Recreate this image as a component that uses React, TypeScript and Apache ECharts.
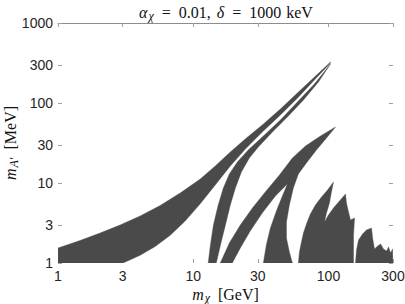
import React, { useEffect, useRef } from 'react';
import * as echarts from 'echarts';

// Tick values on the two logarithmic axes
const xTicks = [1, 3, 10, 30, 100, 300];
const yTicks = [1, 3, 10, 30, 100, 300, 1000];

// Allowed regions, vertices as [m_chi (GeV), m_A' (MeV)]
const bandMain: [number, number][] = [
  [1, 1.54], [1.455, 1.91], [2.047, 2.37], [2.878, 2.985], [4.05, 3.87], [5.695, 5.23],
  [8.01, 7.5], [11.27, 11.22], [14.55, 16.31], [18.8, 24.4], [24.7, 36.5], [32.4, 53.1],
  [44.1, 84.1], [58.9, 133.4], [77.4, 205], [103.5, 325],
  [103.5, 316], [77.4, 188], [58.9, 115], [44.1, 70.8], [32.4, 43.4], [24.3, 26.6],
  [18.8, 16.31], [14.55, 9.44], [11.27, 5.51], [8.72, 3.35], [6.76, 2.219], [5.23, 1.603],
  [4.05, 1.248], [3.03, 1], [1, 1],
];

const finB: [number, number][] = [
  [12.9, 1], [13.4, 1.68], [14.1, 2.99], [15.3, 5.31], [16.7, 8.66], [18.5, 13.0],
  [21.2, 18.3], [25.5, 25.9], [32.4, 37.6], [44.1, 61.3], [58.9, 103], [78.7, 173],
  [103.5, 307],
  [84.3, 183], [65.3, 109], [50.5, 68.8], [38.5, 43.4], [30.3, 28.2], [26.0, 20.5],
  [22.7, 13.7], [20.5, 8.66], [18.8, 5.31], [17.3, 2.99], [15.9, 1.68], [14.8, 1],
];

const finCD: [number, number][] = [
  [15.85, 1], [18.5, 1.78], [22.3, 2.99], [27.4, 4.87], [34.1, 7.72], [43.4, 12.6],
  [54.1, 20.5], [67.6, 29.0], [87.3, 38.7], [112.7, 50.1],
  [96.7, 36.5], [81.5, 25.9], [68.7, 17.8], [59.9, 13.0],
  [55.0, 8.66], [51.4, 5.31], [48.9, 3.25], [48.9, 2.05], [51.4, 1.37], [54.1, 1],
  [33.0, 1], [34.7, 1.68], [37.2, 2.74], [41.2, 4.47], [45.6, 6.88], [49.7, 9.72],
  [40.5, 6.88], [32.4, 4.22], [26.4, 2.51], [22.3, 1.54], [19.45, 1],
];

const finE: [number, number][] = [
  [59.9, 1], [61.0, 1.372], [63.1, 1.83], [65.3, 2.371], [68.7, 3.07], [73.5, 4.1],
  [80.1, 5.31], [88.8, 6.68], [98.4, 8.18], [108.9, 10.3],
  [105.2, 7.72], [101.7, 5.62], [96.7, 4.22], [93.4, 3.25],
  [100, 3.98], [108.9, 4.87], [120.6, 5.96], [133.6, 7.29],
  [135.9, 5.62], [140.7, 4.34], [145.5, 3.45], [155.9, 3.65], [153.2, 2.24], [153.2, 1],
];

const finF: [number, number][] = [
  [158.5, 1], [161.2, 1.45], [166.8, 1.94], [178.6, 2.3], [191, 2.59], [208, 2.74],
  [212, 2.05], [219, 1.5], [231, 1.63], [243, 1.73], [255, 1.5], [269, 1.41],
  [278, 1.59], [288, 1.33], [298, 1.5], [300, 1],
];

const regions = [bandMain, finB, finCD, finE, finF];

const FILL = '#4a4a4a';
const TICK = '#a0a0a0';
const LABEL = '#262626';
const SANS = 'Liberation Sans, Arial, sans-serif';
const SERIF = 'Liberation Serif, DejaVu Serif, serif';

export default function App() {
  const ref = useRef<HTMLDivElement>(null);

  useEffect(() => {
    if (!ref.current) return;
    const chart = echarts.init(ref.current, undefined, { renderer: 'svg' });
    const fmt = (v: number) => String(Math.round(v));
    const base = { fontFamily: SERIF, fontWeight: 'normal', color: '#111' };
    const rich = (size: number) => ({
      i: { ...base, fontStyle: 'italic', fontSize: size },
      n: { ...base, fontSize: size },
      s: { ...base, fontStyle: 'italic', fontSize: Math.round(size * 0.72), padding: [Math.round(size * 0.42), 0, 0, 1] },
      e: { ...base, fontSize: size, padding: [0, 8, 0, 8] },
      d: { ...base, fontStyle: 'italic', fontSize: size, padding: [0, 0, 0, 6] },
      k: { ...base, fontSize: size, padding: [0, 0, 0, 5] },
      g: { ...base, fontSize: size, padding: [0, 0, 0, 8] },
    });
    chart.setOption({
      animation: false,
      backgroundColor: '#ffffff',
      title: {
        text: '{i|α}{s|χ}{e|=}{n|0.01,}{d|δ}{e|=}{n|1000}{k|keV}',
        left: 226,
        top: 3,
        padding: 0,
        textAlign: 'center',
        textStyle: { fontWeight: 'normal', rich: rich(16) },
      },
      grid: { left: 58, right: 12, top: 23, bottom: 41, containLabel: false, outerBoundsMode: 'none' },
      xAxis: [
        {
          type: 'log',
          logBase: 10,
          min: 1,
          max: 300,
          position: 'bottom',
          axisLine: { show: false },
          axisTick: { show: true, inside: true, length: 4, customValues: xTicks, lineStyle: { color: TICK } },
          axisLabel: { customValues: xTicks, formatter: fmt, color: LABEL, fontFamily: SANS, fontSize: 14, margin: 6 },
          splitLine: { show: false },
          name: '{i|m}{s|χ}{g|[GeV]}',
          nameLocation: 'middle',
          nameGap: 22,
          nameMoveOverlap: false,
          nameTextStyle: { rich: rich(16) },
        },
        {
          type: 'log',
          logBase: 10,
          min: 1,
          max: 300,
          position: 'top',
          axisLine: { show: true, lineStyle: { color: '#8c8c8c', width: 1 } },
          axisTick: { show: true, inside: true, length: 4, customValues: xTicks, lineStyle: { color: TICK } },
          axisLabel: { show: false, customValues: xTicks },
          splitLine: { show: false },
        },
      ],
      yAxis: [
        {
          type: 'log',
          logBase: 10,
          min: 1,
          max: 1000,
          position: 'left',
          axisLine: { show: false },
          axisTick: { show: true, inside: true, length: 4, customValues: yTicks, lineStyle: { color: TICK } },
          axisLabel: { customValues: yTicks, formatter: fmt, color: LABEL, fontFamily: SANS, fontSize: 14, margin: 5 },
          splitLine: { show: false },
          name: '{i|m}{s|A′}{g|[MeV]}',
          nameLocation: 'middle',
          nameGap: 38,
          nameMoveOverlap: false,
          nameRotate: 90,
          nameTextStyle: { rich: rich(16) },
        },
        {
          type: 'log',
          logBase: 10,
          min: 1,
          max: 1000,
          position: 'right',
          axisLine: { show: false },
          axisTick: { show: true, inside: true, length: 4, customValues: yTicks, lineStyle: { color: TICK } },
          axisLabel: { show: false, customValues: yTicks },
          splitLine: { show: false },
        },
      ],
      series: [
        {
          type: 'custom',
          coordinateSystem: 'cartesian2d',
          xAxisIndex: 0,
          yAxisIndex: 0,
          clip: true,
          silent: true,
          encode: { x: 0, y: 1 },
          data: regions.map((r, i) => [r[0][0], r[0][1], i]),
          renderItem: (_params: any, api: any) => {
            const idx = api.value(2) as number;
            const pts = regions[idx].map((p) => api.coord(p));
            return {
              type: 'polygon',
              shape: { points: pts },
              style: { fill: FILL, stroke: FILL, lineWidth: 0.4 },
            };
          },
        },
      ],
    });
    return () => chart.dispose();
  }, []);

  return (
    <div
      ref={ref}
      style={{ position: 'fixed', left: 0, top: 0, width: 405, height: 304, background: '#fff' }}
    />
  );
}
